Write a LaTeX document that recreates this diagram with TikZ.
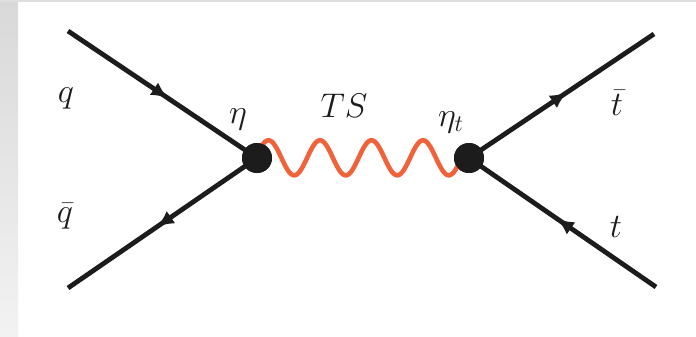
\documentclass[tikz,border=0pt]{standalone}
\usetikzlibrary{arrows.meta,decorations.markings}
\definecolor{ink}{HTML}{1C1C1C}
\definecolor{wave}{HTML}{F0623A}
\tikzset{
  px/.style={x=1pt,y=-1pt},
  fermion/.style={draw=ink,line width=4.8pt,postaction={decorate},decoration={markings,mark=at position #1 with {\arrow[ink]{Latex[length=17pt,width=15pt]}}}},
  vertexdot/.style={circle,fill=ink,minimum size=30pt,inner sep=0pt},
  lbl/.style={text=ink,font=\fontsize{20}{20}\selectfont,inner sep=0pt,transform shape,scale=1.65}
}
\begin{document}
\begin{tikzpicture}[px]
\useasboundingbox (0,0) rectangle (696,337);
\fill[white] (0,0) rectangle (696,337);
\shade[top color=black!15,bottom color=black!5] (0,0) rectangle (18,337);
\fill[black!13] (0,0) rectangle (696,2);
\coordinate (a) at (68,31);
\coordinate (b) at (68,288);
\coordinate (c) at (654,34);
\coordinate (d) at (656,287);
\node[vertexdot] (v) at (257,158) {};
\node[vertexdot] (w) at (469,158) {};
\draw[fermion=0.53] (a) -- (v.center);
\draw[fermion=0.53] (v.center) -- (b);
\draw[fermion=0.53] (w.center) -- (c);
\draw[fermion=0.53] (d) -- (w.center);
\draw[wave,line width=4.6pt] plot[domain=257:469,samples=160] (\x,{157.8-17.5*cos(6.99*(\x-268.5))});
\node[vertexdot] at (v) {};
\node[vertexdot] at (w) {};
\node[lbl] (q) at (66,98) {$q$};
\node[lbl] (qb) at (65,216) {$\bar q$};
\node[lbl] (eta) at (238,119) {$\eta$};
\node[lbl] (ts) at (344,106) {$TS$};
\node[lbl] (etat) at (451,122) {$\eta_t$};
\node[lbl] (tb) at (617,103) {$\bar t$};
\node[lbl] (t) at (616,227) {$t$};
\end{tikzpicture}
\end{document}
